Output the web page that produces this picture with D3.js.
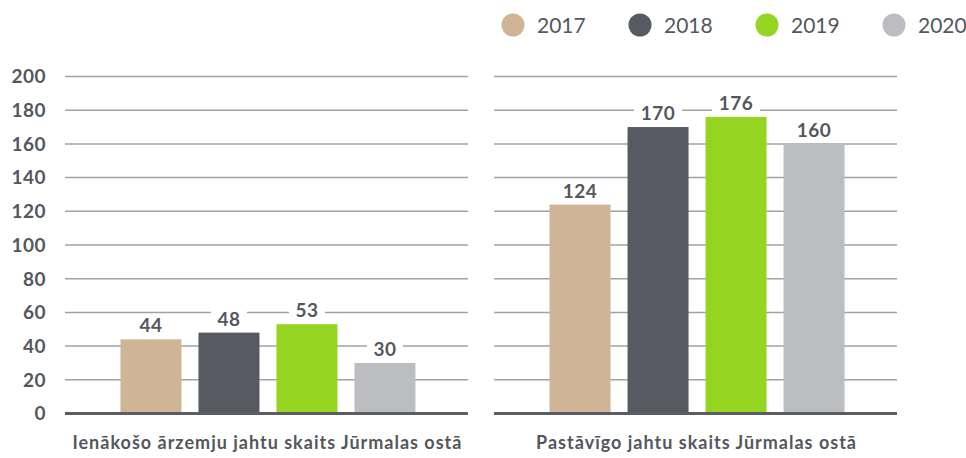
<!DOCTYPE html>
<html>
<head>
<meta charset="utf-8">
<script src="https://cdn.jsdelivr.net/npm/d3@7"></script>
<style>
  body { margin: 0; background: #fff; }
  text { font-family: Lato, "Open Sans", sans-serif; }
</style>
</head>
<body>
<svg id="chart" width="966" height="458"></svg>
<script>
var years = ['2017', '2018', '2019', '2020'];
var panels = ['Ienākošo ārzemju jahtu skaits Jūrmalas ostā', 'Pastāvīgo jahtu skaits Jūrmalas ostā'];
var foreignYachts = [44, 48, 53, 30];
var permanentYachts = [124, 170, 176, 160];
var yTicks = [0, 20, 40, 60, 80, 100, 120, 140, 160, 180, 200];
var colors = ['#cfb595', '#575a61', '#95d522', '#bcbdc0'];

var textColor = '#55575e';
var svg = d3.select('#chart');

var y = d3.scaleLinear().domain([0, 200]).range([413.5, 76.5]);
var color = d3.scaleOrdinal().domain(years).range(colors);

// panel extents
var panelX = d3.scaleBand().domain(panels).range([65, 897]).paddingInner(0.061);

var series = [foreignYachts, permanentYachts];

// y tick labels
svg.append('g').selectAll('text')
    .data(yTicks)
    .enter()
    .append('text')
    .attr('x', 46)
    .attr('y', function (d) { return y(d); })
    .attr('dy', '0.36em')
    .attr('text-anchor', 'end')
    .attr('font-size', 19)
    .attr('font-weight', 700)
    .attr('letter-spacing', 0.5)
    .attr('fill', textColor)
    .text(function (d) { return d; });

panels.forEach(function (name, i) {
    var x0 = panelX(name);
    var w = panelX.bandwidth();
    var cx = x0 + w / 2 + 1.5;
    var g = svg.append('g');

    // gridlines
    g.selectAll('line.grid')
        .data(yTicks.slice(1))
        .enter()
        .append('line')
        .attr('x1', x0).attr('x2', x0 + w)
        .attr('y1', function (d) { return y(d); })
        .attr('y2', function (d) { return y(d); })
        .attr('stroke', '#a0a2a7')
        .attr('stroke-width', 1.5);

    var x = d3.scaleBand().domain(years)
        .range([cx - 147.5, cx + 147.5])
        .paddingInner(0.218);

    var data = years.map(function (yr, j) { return { year: yr, value: series[i][j] }; });

    g.selectAll('rect.bar')
        .data(data)
        .enter()
        .append('rect')
        .attr('x', function (d) { return x(d.year); })
        .attr('y', function (d) { return y(d.value); })
        .attr('width', x.bandwidth())
        .attr('height', function (d) { return y(0) - y(d.value); })
        .attr('fill', function (d) { return color(d.year); });

    // baseline
    g.append('line')
        .attr('x1', x0).attr('x2', x0 + w)
        .attr('y1', y(0)).attr('y2', y(0))
        .attr('stroke', '#5b5d63')
        .attr('stroke-width', 3);

    // value labels with white backing
    var lab = g.selectAll('g.lab')
        .data(data)
        .enter()
        .append('g')
        .attr('transform', function (d) {
            return 'translate(' + (x(d.year) + x.bandwidth() / 2) + ',' + (y(d.value) - 7) + ')';
        });
    lab.append('rect')
        .attr('x', function (d) { return -(String(d.value).length * 6 + 6); })
        .attr('y', -17)
        .attr('width', function (d) { return String(d.value).length * 12 + 12; })
        .attr('height', 19)
        .attr('fill', '#fff');
    lab.append('text')
        .attr('text-anchor', 'middle')
        .attr('font-size', 19)
        .attr('font-weight', 700)
        .attr('letter-spacing', 0.5)
        .attr('fill', textColor)
        .text(function (d) { return d.value; });

    // category label
    g.append('text')
        .attr('x', x0 + w / 2 + 1)
        .attr('y', 449)
        .attr('text-anchor', 'middle')
        .attr('font-size', 18)
        .attr('font-weight', 700)
        .attr('letter-spacing', 1)
        .attr('fill', textColor)
        .text(name);
});

// legend
var legendX = d3.scaleBand().domain(years).range([501, 1009]);
var leg = svg.append('g').selectAll('g')
    .data(years)
    .enter()
    .append('g')
    .attr('transform', function (d) { return 'translate(' + legendX(d) + ',25)'; });
leg.append('circle')
    .attr('cx', 12)
    .attr('r', 11.5)
    .attr('fill', function (d) { return color(d); });
leg.append('text')
    .attr('x', 36)
    .attr('dy', '0.36em')
    .attr('font-size', 21)
    .attr('fill', textColor)
    .text(function (d) { return d; });
</script>
</body>
</html>
